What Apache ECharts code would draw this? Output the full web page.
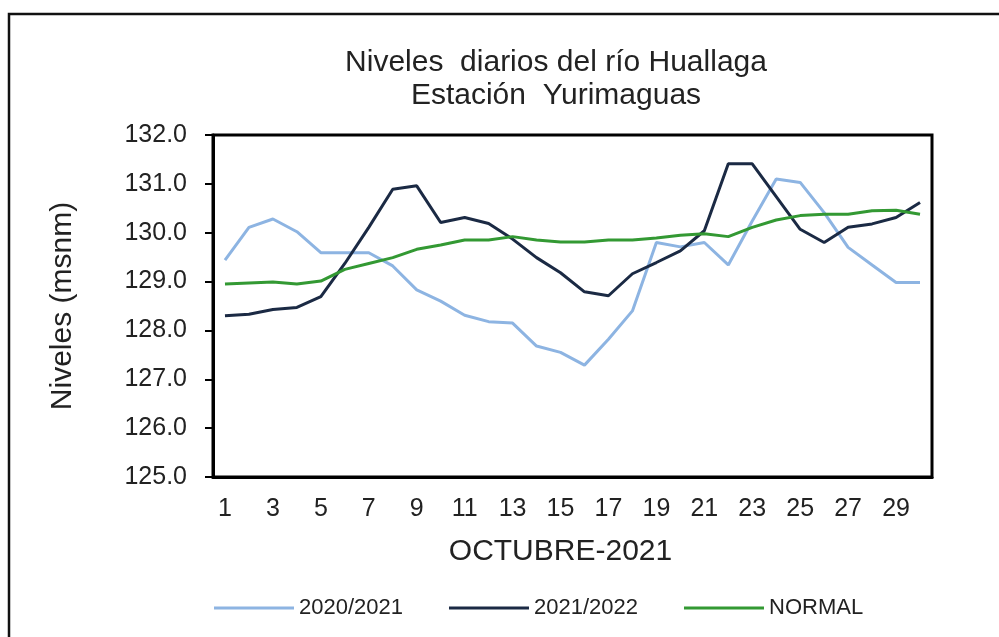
<!DOCTYPE html>
<html>
<head>
<meta charset="utf-8">
<script src="https://cdn.jsdelivr.net/npm/echarts@6/dist/echarts.min.js"></script>
<style>html,body{margin:0;padding:0;background:#fff}#c{width:999px;height:637px}</style>
</head>
<body>
<div id="c"></div>
<script>
const days = ['1','2','3','4','5','6','7','8','9','10','11','12','13','14','15','16','17','18','19','20','21','22','23','24','25','26','27','28','29','30'];
const s2020 = [129.44,130.11,130.28,130.02,129.59,129.59,129.59,129.32,128.83,128.6,128.31,128.18,128.15,127.68,127.55,127.29,127.82,128.4,129.8,129.71,129.8,129.34,130.24,131.1,131.03,130.41,129.7,129.34,128.98,128.98];
const s2021 = [128.30,128.33,128.43,128.47,128.69,129.37,130.11,130.89,130.96,130.21,130.31,130.19,129.87,129.49,129.18,128.79,128.71,129.16,129.39,129.63,130.04,131.41,131.41,130.74,130.07,129.8,130.11,130.18,130.31,130.62];
const normal = [128.95,128.97,128.99,128.95,129.01,129.25,129.37,129.49,129.66,129.75,129.85,129.85,129.92,129.85,129.81,129.81,129.85,129.85,129.89,129.95,129.98,129.92,130.11,130.26,130.35,130.38,130.38,130.45,130.46,130.38];
const seriesNames = ['2020/2021','2021/2022','NORMAL'];

const F = 'Liberation Sans, Arial, sans-serif';
const chart = echarts.init(document.getElementById('c'));
chart.setOption({
  animation:false,
  backgroundColor:'#fff',
  title:{text:'Niveles  diarios del río Huallaga\nEstación  Yurimaguas',left:551,top:41,textAlign:'center',
    textStyle:{fontFamily:F,fontSize:30,fontWeight:'normal',color:'#222',lineHeight:33}},
  legend:{top:592,left:209,itemWidth:80,itemHeight:3,itemGap:46,icon:'rect',
    textStyle:{fontFamily:F,fontSize:22,color:'#222'},data:seriesNames},
  grid:{left:213,top:135,right:67,bottom:160},
  xAxis:{type:'category',data:days,boundaryGap:true,
    name:'OCTUBRE-2021',nameLocation:'middle',nameGap:60,
    nameTextStyle:{fontFamily:F,fontSize:30,color:'#222',padding:[0,24,0,0]},
    axisLine:{lineStyle:{color:'#000',width:3}},
    axisTick:{interval:1,length:8,lineStyle:{color:'#000',width:2}},
    axisLabel:{interval:1,margin:20,fontFamily:F,fontSize:25,color:'#222'}},
  yAxis:{type:'value',min:125,max:132,interval:1,
    name:'Niveles (msnm)',nameLocation:'middle',nameGap:135,
    nameTextStyle:{fontFamily:F,fontSize:30,color:'#222'},
    axisLine:{show:true,lineStyle:{color:'#000',width:3}},
    axisTick:{show:true,length:8,lineStyle:{color:'#000',width:2}},
    axisLabel:{margin:26,fontFamily:F,fontSize:25,color:'#222',formatter:v=>v.toFixed(1)},
    splitLine:{show:false}},
  graphic:[
    {type:'rect',shape:{x:213,y:135,width:719,height:342},style:{fill:'none',stroke:'#000',lineWidth:3},z:10},
    {type:'polyline',shape:{points:[[9,700],[9,14],[1100,14]]},style:{fill:'none',stroke:'#111',lineWidth:2.5}}
  ],
  series:[
    {name:seriesNames[0],type:'line',data:s2020,symbol:'none',lineStyle:{color:'#8DB4E2',width:3},itemStyle:{color:'#8DB4E2'}},
    {name:seriesNames[1],type:'line',data:s2021,symbol:'none',lineStyle:{color:'#1B2A44',width:3},itemStyle:{color:'#1B2A44'}},
    {name:seriesNames[2],type:'line',data:normal,symbol:'none',lineStyle:{color:'#339933',width:3},itemStyle:{color:'#339933'}}
  ]
});
</script>
</body>
</html>
